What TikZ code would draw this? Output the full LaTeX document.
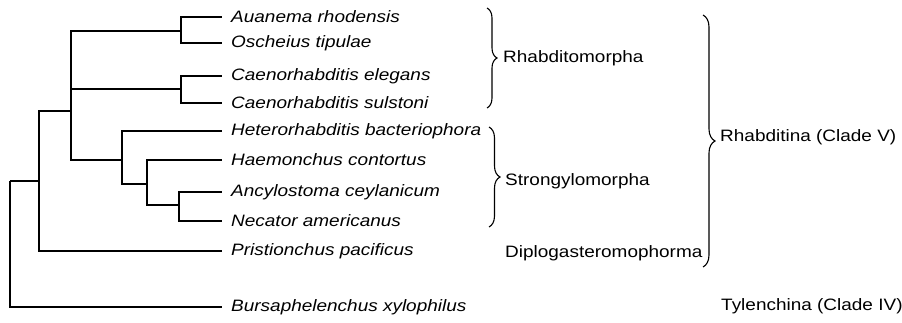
\documentclass[tikz,border=0pt]{standalone}
\usepackage{fontspec}
\setmainfont[FakeStretch=1.15,ItalicFeatures={FakeStretch=1.15}]{Liberation Sans}
\usetikzlibrary{decorations.pathreplacing,positioning}
\newcommand{\taxsize}{\fontsize{16.5}{18}\selectfont}
\tikzset{
  branch/.style={line width=1.6pt},
  taxon/.style={anchor=west, inner xsep=9pt, inner ysep=2pt, font=\itshape\taxsize},
  group/.style={anchor=west, inner sep=0pt, font=\taxsize},
  clade/.style={decorate, decoration={brace, amplitude=#1}, line width=1.1pt},
}

\begin{document}
\begin{tikzpicture}[x=1pt, y=-1pt]
\useasboundingbox (0,0) rectangle (902,323);

% Taxa
\node[taxon] (Au) at (222,17)  {Auanema rhodensis};
\node[taxon] (Os) at (222,43)  {Oscheius tipulae};
\node[taxon] (Ce) at (222,76)  {Caenorhabditis elegans};
\node[taxon] (Cs) at (222,103) {Caenorhabditis sulstoni};
\node[taxon] (He) at (222,131) {Heterorhabditis bacteriophora};
\node[taxon] (Ha) at (222,160) {Haemonchus contortus};
\node[taxon] (An) at (222,192) {Ancylostoma ceylanicum};
\node[taxon] (Ne) at (222,221) {Necator americanus};
\node[taxon] (Pr) at (222,251) {Pristionchus pacificus};
\node[taxon] (Bu) at (222,307) {Bursaphelenchus xylophilus};

% Internal nodes
\coordinate (n1) at (181,31);
\coordinate (n2) at (181,89);
\coordinate (n5) at (179,205);
\coordinate (n4) at (147,184);
\coordinate (n3) at (122,160);
\coordinate (n6) at (71,111);
\coordinate (n7) at (39,181);
\coordinate (root) at (10,181);

% Branches
\draw[branch] (n1) |- (Au.west);
\draw[branch] (n1) |- (Os.west);
\draw[branch] (n2) |- (Ce.west);
\draw[branch] (n2) |- (Cs.west);
\draw[branch] (n5) |- (An.west);
\draw[branch] (n5) |- (Ne.west);
\draw[branch] (n4) |- (Ha.west);
\draw[branch] (n4) |- (n5);
\draw[branch] (n3) |- (He.west);
\draw[branch] (n3) |- (n4);
\draw[branch] (n6) |- (n1);
\draw[branch] (n6) |- (n2);
\draw[branch] (n6) |- (n3);
\draw[branch] (n7) |- (n6);
\draw[branch] (n7) |- (Pr.west);
\draw[branch] (root) |- (n7);
\draw[branch] (root) |- (Bu.west);

% Braces
\coordinate (rtop) at (487,8);   \coordinate (rbot) at (487,108);
\coordinate (stop) at (489,127); \coordinate (sbot) at (489,227);
\coordinate (vtop) at (703,15);  \coordinate (vbot) at (703,267);
\draw[clade=10pt] (rtop) -- (rbot);
\draw[clade=11pt] (stop) -- (sbot);
\draw[clade=12pt] (vtop) -- (vbot);

% Group labels
\node[group] (rhab) at (503,58)  {Rhabditomorpha};
\node[group] (stro) at (505,181) {Strongylomorpha};
\node[group] (dipl) at (505,253) {Diplogasteromophorma};
\node[group] (cl5)  at (720,137) {Rhabditina (Clade V)};
\node[group] (cl4)  at (721,306) {Tylenchina (Clade IV)};
\end{tikzpicture}
\end{document}
